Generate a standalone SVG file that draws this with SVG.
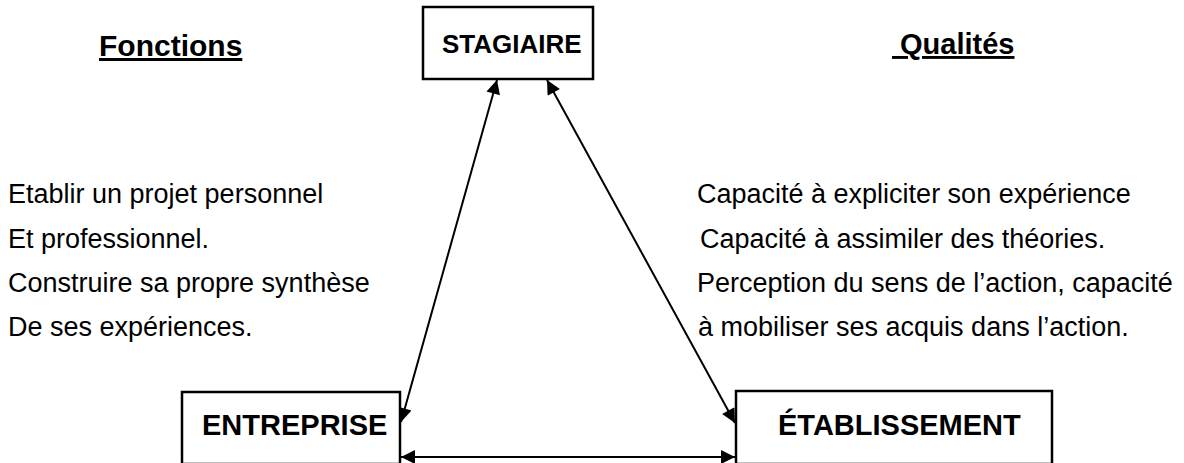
<svg xmlns="http://www.w3.org/2000/svg" width="1184" height="463" viewBox="0 0 1184 463">
  <style>
    .box { fill: #ffffff; stroke: #000000; stroke-width: 2.5; }
    .node { font-family: "Liberation Sans", Arial, sans-serif; font-weight: bold; font-size: 29px; fill: #000; }
    .small { font-size: 26px; }
    .head { font-family: "Liberation Sans", Arial, sans-serif; font-weight: bold; font-size: 29px; fill: #000; text-decoration: underline; }
    .big { font-size: 30px; }
    .body { font-family: "Liberation Sans", Arial, sans-serif; font-size: 27px; fill: #000; }
    .conn { stroke: #000; stroke-width: 2; fill: none; marker-start: url(#arr); marker-end: url(#arr); }
  </style>
  <defs>
    <marker id="arr" viewBox="0 0 10 10" refX="10" refY="5" markerWidth="9" markerHeight="7" markerUnits="strokeWidth" orient="auto-start-reverse">
      <path d="M0,0 L10,5 L0,10 Z" fill="#000"/>
    </marker>
  </defs>
  <rect width="1184" height="463" fill="#ffffff"/>

  <g id="connectors">
    <line class="conn" x1="497" y1="80" x2="401" y2="422"/>
    <line class="conn" x1="547" y1="80" x2="735" y2="423"/>
    <line class="conn" x1="401" y1="457" x2="735" y2="457"/>
  </g>

  <g id="stagiaire">
    <rect class="box" x="423" y="7" width="170" height="72"/>
    <text class="node small" x="442" y="53">STAGIAIRE</text>
  </g>

  <g id="entreprise">
    <rect class="box" x="182" y="392" width="218" height="72"/>
    <text class="node" x="202" y="435">ENTREPRISE</text>
  </g>

  <g id="etablissement">
    <rect class="box" x="736" y="391" width="316" height="73"/>
    <text class="node" x="778" y="435">ÉTABLISSEMENT</text>
  </g>

  <g id="fonctions">
    <text class="head big" x="99" y="56">Fonctions</text>
    <text class="body" x="8" y="203">Etablir un projet personnel</text>
    <text class="body" x="8" y="248">Et professionnel.</text>
    <text class="body" x="8" y="292">Construire sa propre synthèse</text>
    <text class="body" x="8" y="336">De ses expériences.</text>
  </g>

  <g id="qualites">
    <text class="head" x="892" y="54" xml:space="preserve"> Qualités</text>
    <text class="body" x="697" y="203">Capacité à expliciter son expérience</text>
    <text class="body" x="700" y="248">Capacité à assimiler des théories.</text>
    <text class="body" x="697" y="292">Perception du sens de l’action, capacité</text>
    <text class="body" x="698" y="336">à mobiliser ses acquis dans l’action.</text>
  </g>
</svg>
